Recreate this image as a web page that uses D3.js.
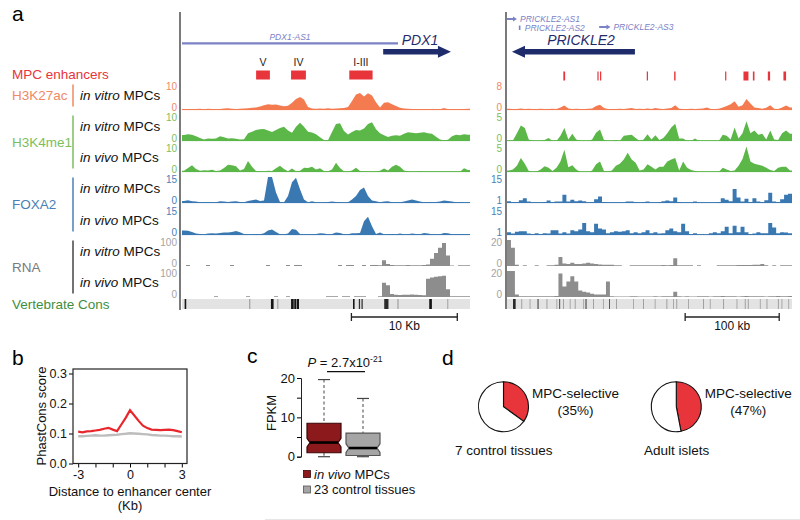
<!DOCTYPE html>
<html lang="en">
<head>
<meta charset="UTF-8">
<title>MPC enhancers at PDX1 and PRICKLE2</title>
<script src="https://cdn.jsdelivr.net/npm/d3@7"></script>
<style>
  html, body { margin: 0; background: #fff; }
  svg { display: block; font-family: "Liberation Sans", Arial, Helvetica, sans-serif; }
</style>
</head>
<body>
<div id="chart"></div>
<script>
// ---------- panel a: browser tracks (72 bins per locus) ----------
const leftH3K27ac = [0.3,0.4,0.3,0.4,0.5,0.3,0.5,0.4,0.3,0.4,0.6,0.7, 0.5,0.4,0.5,0.6,0.7,0.9,1.0,1.3,1.8,2.2,2.0,2.1, 1.7,1.4,1.6,2.8,4.2,5.0,4.0,1.2,0.6,0.5,0.6,0.5, 0.7,0.5,0.6,0.7,0.8,1.2,3.5,6.0,6.5,5.2,6.4,5.6, 3.0,1.0,2.8,3.0,2.2,1.5,0.9,0.6,0.5,0.4,0.4,0.3, 0.4,0.3,0.3,0.4,0.3,0.8,0.3,0.3,0.2,0.3,0.4,0.5];
const leftH3K4me1Vitro = [2.3,2.6,2.4,1.8,1.2,0.6,1.0,0.9,1.0,1.8,1.4,1.0, 1.1,0.9,0.6,0.7,3.0,3.6,4.2,4.5,4.6,4.0,3.5,4.2, 5.0,5.5,4.0,3.2,5.5,7.0,5.5,3.6,3.3,2.6,1.4,0.4, 0.3,3.5,6.5,6.8,3.8,2.5,3.5,4.2,4.0,4.8,6.5,7.2, 4.5,3.0,2.2,1.5,2.0,2.2,2.0,2.8,3.4,3.2,3.0,3.2, 3.4,3.0,2.8,1.6,0.6,0.3,0.5,1.8,2.4,2.2,2.6,2.4];
const leftH3K4me1Vivo = [0.5,1.5,2.6,1.2,0.5,0.7,0.6,0.9,0.4,0.6,1.5,2.8, 2.6,2.2,0.6,1.2,4.2,2.0,0.4,0.3,0.2,0.5,0.4,1.4, 2.4,1.2,0.3,1.3,0.3,0.5,1.6,1.5,2.0,1.0,1.4,0.4, 0.3,1.0,3.6,1.5,0.3,0.2,0.6,1.6,0.4,0.2,0.2,0.1, 0.2,0.5,1.3,0.6,2.0,2.8,2.0,0.6,0.2,0.1,0.1,0.3, 0.1,0.1,0.1,0.1,0.1,0.1,0.1,0.1,0.1,0.1,1.4,0.8];
const leftFoxa2Vitro = [1.2,1.6,1.0,0.8,0.5,0.4,0.4,0.3,0.5,1.0,0.8,0.6, 0.8,1.0,0.6,0.5,1.2,1.6,2.0,1.2,1.5,16,16,6, 0.6,0.5,4,12,14.5,8,2.0,0.4,1.0,0.4,0.3,0.3, 0.6,0.8,0.6,0.4,0.3,0.5,2.0,4.0,7.5,9.0,4.0,1.5, 1.0,0.5,0.8,1.0,0.4,0.3,0.5,0.8,1.5,2.0,1.5,0.8, 0.5,0.6,0.5,0.6,0.8,1.4,1.2,0.8,0.5,0.4,0.3,0.3];
const leftFoxa2Vivo = [2.6,2.4,1.8,0.8,0.6,0.5,0.9,1.0,0.8,1.2,1.5,1.4, 1.7,2.3,1.6,0.6,0.5,0.4,0.6,0.5,1.0,2.6,3.2,1.8, 0.5,0.4,0.9,3.4,3.0,0.6,0.3,0.5,0.4,0.6,1.0,0.8, 0.4,0.6,1.4,1.2,0.4,0.5,1.0,1.0,1.2,8.0,10.5,5.0, 0.6,1.4,0.5,0.4,0.6,0.5,0.9,0.5,0.4,0.8,0.6,0.4, 1.2,0.8,0.4,0.3,0.5,1.2,1.0,0.4,0.5,0.6,0.4,0.5];
const leftRnaVitro = [0,4,0,0,0,0,4,0,0,0,0,0, 4,0,0,0,0,0,0,0,0,4,0,0, 0,0,4,0,4,4,0,0,0,0,0,0, 0,0,0,4,0,4,4,0,0,4,0,4, 4,3,22,8,4,3,3,3,4,3,3,3, 4,6,28,50,70,88,40,2,0,3,3,3];
const leftRnaVivo = [0,0,0,0,0,0,0,0,3,0,0,0, 0,0,0,0,3,0,0,0,0,0,0,3, 0,0,3,0,0,0,0,0,0,0,0,0, 3,3,3,0,3,3,0,3,3,3,0,0, 0,3,55,45,12,9,8,9,9,10,9,8, 7,70,75,78,80,82,30,3,3,3,3,3];

const rightH3K27ac = [0.4,0.3,0.3,0.5,0.3,0.4,0.3,0.3,0.4,0.3,0.3,0.4, 0.3,0.8,1.4,0.5,0.3,0.4,0.3,0.3,0.4,0.5,1.2,1.6, 0.6,0.3,0.3,0.3,0.4,0.3,0.5,0.6,0.3,0.4,0.3,0.5, 0.3,0.6,0.4,0.3,0.5,0.6,1.5,0.4,0.3,0.3,0.4,0.3, 0.4,0.5,0.8,0.3,0.3,0.4,0.8,1.2,1.8,2.7,1.0,1.5, 3.4,2.0,0.8,0.6,0.4,0.7,1.5,0.4,0.3,0.8,1.4,0.8];
const rightH3K4me1Vitro = [0,0.1,1.5,3.0,2.5,0.3,0,0,0,0.2,0.6,0, 0,1.0,2.5,0.3,1.4,0.3,0,0,0,0.3,1.6,2.2, 0.2,0,0,0.2,0,1.0,1.1,1.2,0.6,0,0.3,1.3, 0.3,1.1,0.2,0.6,1.5,2.6,3.3,0.5,0.5,0,0,0.5, 0,0,0,0,0,0,1.2,1.0,0.3,2.6,0.5,1.5, 3.8,1.5,2.0,1.2,1.4,0.3,2.0,0.3,0.2,1.5,2.0,1.4];
const rightH3K4me1Vivo = [0.3,0.5,1.2,2.7,1.6,0.2,0,0.1,0.5,1.1,0.8,0.2, 0.8,2.0,4.3,0.9,1.3,0.5,0,0,0,0.3,1.5,2.0, 0.2,0.1,0.3,1.2,1.6,2.4,3.7,2.4,1.8,0.3,0.5,1.5, 1.0,0.5,1.0,1.0,2.0,2.4,2.7,0.3,2.0,0.8,0.4,0.2, 0,0,0,0,0,0,0.8,0.5,0.2,0.3,1.2,2.5, 4.9,2.0,1.6,1.4,1.2,0.8,0.4,0.2,0.8,1.0,1.0,0.3];
const rightFoxa2Vitro = [2,1.5,1.5,2.5,3.5,1.8,1.3,1.3,1.3,1.5,2.3,1.5, 1.8,1.8,5.5,1.8,2.8,2,2.3,2,1.3,1.5,3,4.5, 1.5,1.3,1.3,1.3,1.3,1.3,1.8,1.8,1.5,1.3,1.5,1.8, 1.3,1.3,1.5,2,2.3,2,4,1.5,1.3,1.3,1.3,1.8, 1.3,1.3,1.3,1.3,1.3,1.5,3.5,2.8,2,8.5,4,1.8, 3.3,1.5,3.5,1.8,1.5,2.5,6.5,1.8,1.5,3,5.5,6];
const rightFoxa2Vivo = [2.5,1.8,2.8,3,3,1.8,1.5,2,1.5,2,1.8,3.5, 3.5,1.8,2.5,1.8,3.5,3,4,7.5,3,2.5,7,4.5, 4,2,2.5,3,2.8,3,3.5,2,2.5,2,2.5,3.5, 2,2.5,1.8,2,3.5,4.5,3,2.5,7,3,1.5,2, 1.3,1.3,1.3,2,2.5,2,3,5.5,2,6,2.5,5.5, 2.5,1.5,1.8,2.5,2,2,7.5,5,2,2.5,2.3,2];
const rightRnaVitro = [20,14,1,0,0.5,0,0,0.5,0,0,0.5,0.5, 1,7,2,1.5,2.5,1.5,1.5,2,2.5,2,1.5,1.2, 1,1,1,0.5,0.5,0,0,0.5,0.5,0.5,0.5,0.5, 0.5,0.5,0.5,0.8,0.5,0.8,6,0.5,0.5,0.5,0.5,0, 0.5,0,0,0,0,0.5,0.5,0.5,0.5,0.5,0.8,0.8, 0.8,0.8,1,1,1.5,0.5,0,0.5,0,0.5,0.5,0.5];
const rightRnaVivo = [21,20,2,0.5,0.5,0.5,0.5,0.5,0.5,0.5,0.5,0.5, 0.8,18,8,12,16,12,5,4,3.5,2.5,2,2, 2,12,0.5,0.3,0.3,0.3,0.3,0.5,0.5,0.3,0.3,0.3, 0.3,0.5,0.3,0.5,0.5,0.5,4,0.5,0.3,0.5,0.3,0.3, 0.5,0.5,0.5,0.3,0.5,0.5,0.8,0.5,0.5,0.5,0.3,0.5, 0.8,0.5,0.5,0.5,0.5,0.3,0.5,0.5,0.8,0.5,0.5,0.8];

const leftMin = [0, 0, 0, 0, 0, 0, 0];
const leftMax = [10, 10, 10, 15, 15, 100, 100];
const rightMin = [0, 0, 0, 1, 1, 0, 0];
const rightMax = [8, 5, 5, 15, 15, 20, 20];

const assayNames = ['H3K27ac', 'H3K4me1', 'FOXA2', 'RNA'];
const assayRows = [[0], [1, 2], [3, 4], [5, 6]];
const rowSample = ['in vitro', 'in vitro', 'in vivo', 'in vitro', 'in vivo', 'in vitro', 'in vivo'];

// loci in kb from the left edge of each window
const leftGenes = [
  {name: 'PDX1-AS1', start: 0, end: 20.4, strand: 0, kind: 'nc'},
  {name: 'PDX1', start: 19.0, end: 25.4, strand: 1, kind: 'coding'}
];
const rightGenes = [
  {name: 'PRICKLE2-AS1', start: 0, end: 10.6, strand: 1, kind: 'nc'},
  {name: 'PRICKLE2-AS2', start: 12.6, end: 13.6, strand: 0, kind: 'nc'},
  {name: 'PRICKLE2-AS3', start: 98, end: 110, strand: 1, kind: 'nc'},
  {name: 'PRICKLE2', start: 5.3, end: 136, strand: -1, kind: 'coding'}
];
const leftEnhancers = [['V', 7.0, 8.3], ['IV', 10.3, 11.7], ['I-III', 15.8, 18.0]];
const rightEnhancers = [[59.9, 61.8], [96.1, 97.2], [98.9, 100], [148.6, 149.7], [177.7, 179.2],
  [231.9, 232.9], [251.4, 256.7], [261.4, 263.1], [277.3, 279.7], [293.9, 296.7]];
const consLeft = [[0.25, 0.4, 1], [6.35, 6.45, 0.35], [8.4, 8.65, 1], [9.0, 9.1, 0.35], [10.3, 10.55, 1],
  [10.6, 10.8, 1], [10.85, 11.05, 1], [16.15, 16.3, 1], [16.7, 16.82, 0.85], [16.95, 17.07, 0.85],
  [19.1, 19.5, 0.9], [20.35, 20.45, 0.35], [23.35, 23.6, 1], [25.05, 25.15, 0.3]];
const consRight = [[6.4, 9.2, 0.9], [32.5, 33.5, 0.9], [55.5, 56.5, 0.8], [83.5, 84.5, 0.9], [108.5, 109.5, 0.7],
  [15.2, 16, 0.35], [24, 24.8, 0.3], [42, 42.8, 0.35], [52.5, 53.3, 0.3], [59.6, 60.4, 0.35], [66.7, 67.5, 0.3],
  [72, 72.8, 0.35], [81, 81.8, 0.3], [91.5, 92.3, 0.35], [102, 102.8, 0.3], [116, 116.8, 0.35], [134, 134.8, 0.3],
  [144.7, 145.5, 0.35], [157, 157.8, 0.3], [169.5, 170.3, 0.35], [176.6, 177.4, 0.3], [180, 180.8, 0.35],
  [192.5, 193.3, 0.3], [208.5, 209.3, 0.35], [215.6, 216.4, 0.3], [229.8, 230.6, 0.35], [244, 244.8, 0.3],
  [252.8, 253.6, 0.35], [256, 256.8, 0.35], [268.8, 269.6, 0.3], [275.9, 276.7, 0.35], [288, 288.8, 0.35],
  [291.8, 292.6, 0.3], [299, 299.8, 0.3]];

// ---------- panel b ----------
const distKb = [-3,-2.75,-2.5,-2.25,-2,-1.75,-1.5,-1.25,-1,-0.75,-0.5,-0.25,0,0.25,0.5,0.75,1,1.25,1.5,1.75,2,2.25,2.5,2.75,3];
const phastEnhancers = [0.106,0.104,0.107,0.108,0.110,0.112,0.116,0.119,0.113,0.108,0.130,0.152,0.178,0.160,0.142,0.126,0.118,0.113,0.112,0.111,0.112,0.113,0.111,0.108,0.104];
const phastControl = [0.091,0.091,0.092,0.093,0.094,0.093,0.093,0.094,0.095,0.096,0.098,0.099,0.101,0.100,0.099,0.098,0.097,0.095,0.094,0.093,0.093,0.092,0.091,0.091,0.090];

// ---------- panel c ----------
const boxGroups = ['in vivo MPCs', '23 control tissues'];
const boxMin = [0, 0];
const boxQ1 = [1.0, 0.3];
const boxMedian = [3.6, 2.2];
const boxQ3 = [8.5, 6.0];
const boxMax = [19.6, 14.8];

// ---------- panel d ----------
const pieNames = ['7 control tissues', 'Adult islets'];
const pieSelective = [35, 47];

const RED = '#e8343b';
const svg = d3.select('#chart').append('svg').attr('width', 800).attr('height', 520);
svg.append('rect').attr('width', 800).attr('height', 520).attr('fill', '#fff');

function letter(x, y, t) {
  svg.append('text').attr('x', x).attr('y', y).attr('font-size', 21).text(t);
}

//=====================
// Panel a
//=====================
const gA = svg.append('g');
const TRACK_H = 26;
const rowBase = [110, 141, 172, 203, 235, 266, 297];
const rowColor = ['#f47b50', '#5cb749', '#5cb749', '#3a78b2', '#3a78b2', '#8d8d8d', '#8d8d8d'];
const assayColor = ['#f08964', '#7dbe5c', '#4a7fb5', '#7a7a7a'];
const assayBar = ['#f08964', '#7dbe5c', '#4a7fb5', '#444'];
const numColor = ['#f08964', '#7dbe5c', '#7dbe5c', '#4a7fb5', '#4a7fb5', '#a3a3a3', '#a3a3a3'];

const xL = d3.scaleLinear().domain([0, 27.2]).range([182, 470]);
const xR = d3.scaleLinear().domain([0, 303]).range([507, 792]);

letter(12, 21, 'a');

// vertical window axes
[[180, 310], [506, 309]].forEach(([x, y2]) => {
  gA.append('line').attr('x1', x).attr('x2', x).attr('y1', 12).attr('y2', y2)
    .attr('stroke', '#333').attr('stroke-width', 1.3);
});

function drawTrack(xs, values, r, lo, hi, stepped) {
  const base = rowBase[r];
  const span = xs.domain()[1];
  const w = span / values.length;
  const ys = d3.scaleLinear().domain([lo, hi]).range([base, base - TRACK_H]).clamp(true);
  let pts;
  if (stepped) {
    pts = values.map((v, i) => [i * w, v]).concat([[span, values[values.length - 1]]]);
  } else {
    pts = [[0, values[0]]].concat(values.map((v, i) => [(i + 0.5) * w, v]), [[span, values[values.length - 1]]]);
  }
  const area = d3.area()
    .x(d => xs(d[0]))
    .y0(base)
    .y1(d => ys(d[1]))
    .curve(stepped ? d3.curveStepAfter : d3.curveLinear);
  gA.append('path').datum(pts).attr('d', area).attr('fill', rowColor[r]);
  if (r < 5) {
    gA.append('line').attr('x1', xs.range()[0]).attr('x2', xs.range()[1])
      .attr('y1', base - 0.4).attr('y2', base - 0.4)
      .attr('stroke', rowColor[r]).attr('stroke-width', 1);
  }
  const lx = xs.range()[0] - 5;
  gA.append('text').attr('x', lx).attr('y', base - TRACK_H + 2).attr('dy', '0.35em')
    .attr('text-anchor', 'end').attr('font-size', 10).attr('fill', numColor[r]).text(hi);
  gA.append('text').attr('x', lx).attr('y', base - 2.5).attr('dy', '0.35em')
    .attr('text-anchor', 'end').attr('font-size', 10).attr('fill', numColor[r]).text(lo);
}

const leftTracks = [leftH3K27ac, leftH3K4me1Vitro, leftH3K4me1Vivo, leftFoxa2Vitro, leftFoxa2Vivo, leftRnaVitro, leftRnaVivo];
const rightTracks = [rightH3K27ac, rightH3K4me1Vitro, rightH3K4me1Vivo, rightFoxa2Vitro, rightFoxa2Vivo, rightRnaVitro, rightRnaVivo];
leftTracks.forEach((v, r) => drawTrack(xL, v, r, leftMin[r], leftMax[r], r >= 5));
rightTracks.forEach((v, r) => drawTrack(xR, v, r, rightMin[r], rightMax[r], r >= 3));

// row labels
const subY = r => rowBase[r] - 10;
assayRows.forEach((rows, k) => {
  const first = subY(rows[0]), last = subY(rows[rows.length - 1]);
  gA.append('text').attr('x', 12).attr('y', (first + last) / 2).attr('font-size', 13.5)
    .attr('fill', assayColor[k]).text(assayNames[k]);
  gA.append('line').attr('x1', 73).attr('x2', 73).attr('y1', first - 15.5).attr('y2', last + 6.5)
    .attr('stroke', assayBar[k]).attr('stroke-width', 1.5);
  rows.forEach(r => {
    const t = gA.append('text').attr('x', 80).attr('y', subY(r)).attr('font-size', 13.5).attr('fill', '#111');
    t.append('tspan').attr('font-style', 'italic').text(rowSample[r]);
    t.append('tspan').text(' MPCs');
  });
});
gA.append('text').attr('x', 12).attr('y', 79).attr('font-size', 13.5).attr('fill', RED).text('MPC enhancers');
gA.append('text').attr('x', 12).attr('y', 308.5).attr('font-size', 13.5).attr('fill', '#3f8f3f').text('Vertebrate Cons');

// genes
function arrowPath(xa, xb, y, dir, thick, head, hl) {
  if (dir > 0) {
    return `M${xa},${y - thick / 2}H${xb - hl}V${y - head / 2}L${xb},${y}L${xb - hl},${y + head / 2}V${y + thick / 2}H${xa}Z`;
  }
  return `M${xb},${y - thick / 2}H${xa + hl}V${y - head / 2}L${xa},${y}L${xa + hl},${y + head / 2}V${y + thick / 2}H${xb}Z`;
}
const NAVY = '#1f2c6c', LILAC = '#7b82c6';

// PDX1 locus
const pdxAs = leftGenes[0], pdx = leftGenes[1];
gA.append('line').attr('x1', xL(pdxAs.start)).attr('x2', xL(pdxAs.end)).attr('y1', 43.3).attr('y2', 43.3)
  .attr('stroke', LILAC).attr('stroke-width', 2.2);
gA.append('text').attr('x', (xL(pdxAs.start) + xL(pdxAs.end)) / 2).attr('y', 39.5).attr('text-anchor', 'middle')
  .attr('font-size', 8.5).attr('font-style', 'italic').attr('fill', LILAC).text(pdxAs.name);
gA.append('path').attr('d', arrowPath(xL(pdx.start), xL(pdx.end), 51.7, pdx.strand, 5.5, 12, 13)).attr('fill', NAVY);
gA.append('text').attr('x', (xL(pdx.start) + xL(pdx.end)) / 2 + 3).attr('y', 45).attr('text-anchor', 'middle')
  .attr('font-size', 14).attr('font-style', 'italic').attr('fill', NAVY).text(pdx.name);

// PRICKLE2 locus
const ncRowY = [19, 28, 27];
rightGenes.filter(g => g.kind === 'nc').forEach((g, i) => {
  const y = ncRowY[i];
  if (g.strand > 0) {
    gA.append('path').attr('d', arrowPath(xR(g.start), xR(g.end), y, 1, 2.2, 5, 4)).attr('fill', LILAC);
  } else {
    gA.append('rect').attr('x', xR(g.start)).attr('y', y - 2.5).attr('width', 1.6).attr('height', 4.5).attr('fill', LILAC);
  }
  gA.append('text').attr('x', xR(g.end) + (g.strand > 0 ? 3 : 5)).attr('y', y + 3)
    .attr('font-size', 8.5).attr('font-style', 'italic').attr('fill', LILAC).text(g.name);
});
const pk = rightGenes[3];
gA.append('path').attr('d', arrowPath(xR(pk.start), xR(pk.end), 51.7, pk.strand, 5.5, 12, 13)).attr('fill', NAVY);
gA.append('text').attr('x', 581).attr('y', 45).attr('text-anchor', 'middle')
  .attr('font-size', 14).attr('font-style', 'italic').attr('fill', NAVY).text(pk.name);

// enhancers
leftEnhancers.forEach(([lab, s, e]) => {
  gA.append('rect').attr('x', xL(s)).attr('y', 70.5).attr('width', xL(e) - xL(s)).attr('height', 9).attr('fill', RED);
  gA.append('text').attr('x', (xL(s) + xL(e)) / 2).attr('y', 66).attr('text-anchor', 'middle')
    .attr('font-size', 10.5).attr('fill', '#222').text(lab);
});
rightEnhancers.forEach(([s, e]) => {
  gA.append('rect').attr('x', xR(s)).attr('y', 71.5).attr('width', Math.max(1.2, xR(e) - xR(s))).attr('height', 9).attr('fill', RED);
});

// conservation
const consShade = d3.scaleLinear().domain([0, 1]).range(['#e0e0e0', '#151515']);
[[xL, consLeft], [xR, consRight]].forEach(([xs, cons]) => {
  gA.append('rect').attr('x', xs.range()[0]).attr('y', 299).attr('width', xs.range()[1] - xs.range()[0])
    .attr('height', 10).attr('fill', '#e3e3e3');
  cons.forEach(([s, e, v]) => {
    gA.append('rect').attr('x', xs(s)).attr('y', 299).attr('width', Math.max(0.9, xs(e) - xs(s)))
      .attr('height', 10).attr('fill', consShade(v));
  });
});

// scale bars
[[xL, 16.0, 26.0, '10 Kb'], [xR, 189.4, 289.4, '100 kb']].forEach(([xs, s, e, lab]) => {
  const x1 = xs(s), x2 = xs(e);
  gA.append('line').attr('x1', x1).attr('x2', x2).attr('y1', 317).attr('y2', 317).attr('stroke', '#222').attr('stroke-width', 1.3);
  [x1, x2].forEach(x => gA.append('line').attr('x1', x).attr('x2', x).attr('y1', 313).attr('y2', 321)
    .attr('stroke', '#222').attr('stroke-width', 1.3));
  gA.append('text').attr('x', (x1 + x2) / 2).attr('y', 330).attr('text-anchor', 'middle').attr('font-size', 12)
    .attr('fill', '#111').text(lab);
});

//=====================
// Panel b
//=====================
const gB = svg.append('g');
letter(12, 365, 'b');
const bx = d3.scaleLinear().domain([-3.3, 3.3]).range([73, 187]);
const by = d3.scaleLinear().domain([0, 0.315]).range([463.5, 369]);

gB.append('g').attr('transform', 'translate(0,463.5)')
  .call(d3.axisBottom(bx).tickValues([-3, -2, -1, 0, 1, 2, 3]).tickSize(4).tickPadding(3)
    .tickFormat(d => (d % 3 === 0 ? String(d) : '')))
  .call(g => g.select('.domain').remove())
  .call(g => g.selectAll('text').attr('font-size', 12.5).attr('fill', '#111').attr('font-family', null));
gB.append('g').attr('transform', 'translate(73,0)')
  .call(d3.axisLeft(by).tickValues([0, 0.1, 0.2, 0.3]).tickSize(4).tickPadding(2).tickFormat(d3.format('.1f')))
  .call(g => g.select('.domain').remove())
  .call(g => g.selectAll('text').attr('font-size', 12.5).attr('fill', '#111').attr('font-family', null));

const phastLine = d3.line().x((d, i) => bx(distKb[i])).y(d => by(d));
gB.append('path').datum(phastControl).attr('d', phastLine).attr('fill', 'none')
  .attr('stroke', '#bdbdbd').attr('stroke-width', 2.4);
gB.append('path').datum(phastEnhancers).attr('d', phastLine).attr('fill', 'none')
  .attr('stroke', '#e8262c').attr('stroke-width', 2.2);
gB.append('rect').attr('x', 73).attr('y', 369).attr('width', 114).attr('height', 94.5)
  .attr('fill', 'none').attr('stroke', '#222').attr('stroke-width', 1.2);

gB.append('text').attr('transform', 'translate(46,416) rotate(-90)').attr('text-anchor', 'middle')
  .attr('font-size', 13).attr('fill', '#111').text('PhastCons score');
gB.append('text').attr('x', 130).attr('y', 496).attr('text-anchor', 'middle').attr('font-size', 13)
  .attr('fill', '#111').text('Distance to enhancer center');
gB.append('text').attr('x', 130).attr('y', 510).attr('text-anchor', 'middle').attr('font-size', 13)
  .attr('fill', '#111').text('(Kb)');

//=====================
// Panel c
//=====================
const gC = svg.append('g');
letter(247, 363, 'c');
const cy = d3.scaleLinear().domain([0, 20]).range([456.7, 378]);
const cx = d3.scalePoint().domain(boxGroups).range([324, 363]);
const boxW = 34;
const boxFill = ['#8c1a1d', '#a5a5a5'];
const boxLine = ['#3b0708', '#555'];

gC.append('g').attr('transform', 'translate(301,0)')
  .call(d3.axisLeft(cy).tickValues([0, 5, 10, 15, 20]).tickSize(4).tickPadding(2)
    .tickFormat(d => (d % 10 === 0 ? d : '')))
  .call(g => g.select('.domain').attr('stroke', '#222'))
  .call(g => g.selectAll('text').attr('font-size', 13).attr('fill', '#111').attr('font-family', null));
gC.append('text').attr('transform', 'translate(276,413) rotate(-90)').attr('text-anchor', 'middle')
  .attr('font-size', 13).attr('fill', '#111').text('FPKM');

boxGroups.forEach((grp, i) => {
  const c = cx(grp), x0 = c - boxW / 2, x1 = c + boxW / 2;
  // whiskers
  [[boxMax[i], boxQ3[i]], [boxQ1[i], boxMin[i]]].forEach(([a, b]) => {
    gC.append('line').attr('x1', c).attr('x2', c).attr('y1', cy(a)).attr('y2', cy(b))
      .attr('stroke', '#666').attr('stroke-width', 1.2).attr('stroke-dasharray', '3,2.5');
  });
  [boxMax[i], boxMin[i]].forEach(v => {
    gC.append('line').attr('x1', c - 6).attr('x2', c + 6).attr('y1', cy(v)).attr('y2', cy(v))
      .attr('stroke', '#444').attr('stroke-width', 1.2);
  });
  // notched box
  const n = 1.1, ind = 3;
  const p = `M${x0},${cy(boxQ3[i])}H${x1}V${cy(boxMedian[i] + n)}L${x1 - ind},${cy(boxMedian[i])}L${x1},${cy(boxMedian[i] - n)}` +
    `V${cy(boxQ1[i])}H${x0}V${cy(boxMedian[i] - n)}L${x0 + ind},${cy(boxMedian[i])}L${x0},${cy(boxMedian[i] + n)}Z`;
  gC.append('path').attr('d', p).attr('fill', boxFill[i]).attr('stroke', boxLine[i]).attr('stroke-width', 1.2);
  gC.append('line').attr('x1', x0 + ind).attr('x2', x1 - ind).attr('y1', cy(boxMedian[i])).attr('y2', cy(boxMedian[i]))
    .attr('stroke', '#000').attr('stroke-width', 2.6);
  // legend
  const ly = 474 + i * 15.5;
  gC.append('rect').attr('x', 303.5).attr('y', ly - 3.5).attr('width', 7).attr('height', 7)
    .attr('fill', boxFill[i]).attr('stroke', boxLine[i]).attr('stroke-width', 0.8);
  const t = gC.append('text').attr('x', 314).attr('y', ly).attr('dy', '0.35em').attr('font-size', 13).attr('fill', '#111');
  if (grp.startsWith('in vivo')) {
    t.append('tspan').attr('font-style', 'italic').text('in vivo');
    t.append('tspan').text(' MPCs');
  } else {
    t.text(grp);
  }
});

// significance bracket
gC.append('line').attr('x1', 327).attr('x2', 365).attr('y1', 371.7).attr('y2', 371.7)
  .attr('stroke', '#111').attr('stroke-width', 1.2);
const pt = gC.append('text').attr('x', 345).attr('y', 366.5).attr('text-anchor', 'middle')
  .attr('font-size', 13).attr('fill', '#111');
pt.append('tspan').attr('font-style', 'italic').text('P');
pt.append('tspan').text(' = 2.7x10');
pt.append('tspan').attr('font-size', 8.5).attr('dy', -5).text('-21');

//=====================
// Panel d
//=====================
const gD = svg.append('g');
letter(442, 365, 'd');
const pieCx = [503.5, 676.3];
const pie = d3.pie().sort(null).value(d => d);
const arc = d3.arc().innerRadius(0).outerRadius(25);
pieSelective.forEach((pct, i) => {
  const g = gD.append('g').attr('transform', `translate(${pieCx[i]},406.7)`);
  g.selectAll('path').data(pie([pct, 100 - pct])).join('path')
    .attr('d', arc)
    .attr('fill', (d, j) => (j === 0 ? RED : '#fff'))
    .attr('stroke', '#111').attr('stroke-width', 1.1);
  const lx = pieCx[i] + 72;
  gD.append('text').attr('x', lx).attr('y', 398).attr('text-anchor', 'middle').attr('font-size', 13.5)
    .attr('fill', '#111').text('MPC-selective');
  gD.append('text').attr('x', lx).attr('y', 415).attr('text-anchor', 'middle').attr('font-size', 13.5)
    .attr('fill', '#111').text(`(${pct}%)`);
  gD.append('text').attr('x', pieCx[i] - (i === 0 ? 48.5 : 32.3)).attr('y', 454.5).attr('font-size', 13.5)
    .attr('fill', '#111').text(pieNames[i]);
});

// faint rule at the foot of the figure
svg.append('line').attr('x1', 265).attr('x2', 800).attr('y1', 519.5).attr('y2', 519.5)
  .attr('stroke', '#e6e6e6').attr('stroke-width', 1);
</script>
</body>
</html>
